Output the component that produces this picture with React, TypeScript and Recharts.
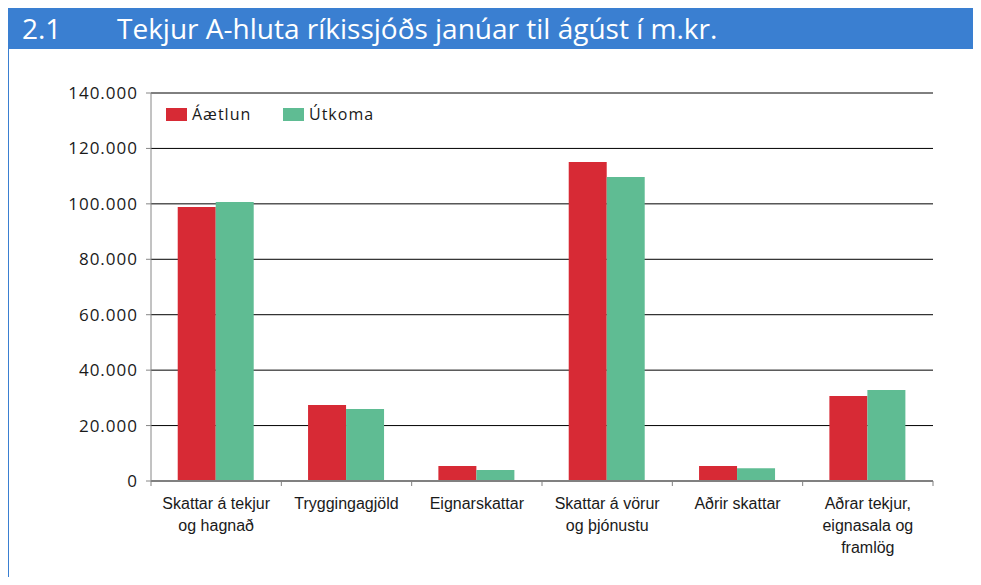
import { BarChart, Bar, XAxis, YAxis, CartesianGrid, Legend } from "recharts";

// categories, split over lines the same way the original wraps them
const categories = [
  "Skattar á tekjur og hagnað",
  "Tryggingagjöld",
  "Eignarskattar",
  "Skattar á vörur og þjónustu",
  "Aðrir skattar",
  "Aðrar tekjur, eignasala og framlög",
];
const categoryLines = [
  ["Skattar á tekjur", "og hagnað"],
  ["Tryggingagjöld"],
  ["Eignarskattar"],
  ["Skattar á vörur", "og þjónustu"],
  ["Aðrir skattar"],
  ["Aðrar tekjur,", "eignasala og", "framlög"],
];
const aaetlun = [98900, 27400, 5400, 115100, 5400, 30700];
const utkoma = [100700, 26000, 4000, 109700, 4600, 32800];
const yTicks = [0, 20000, 40000, 60000, 80000, 100000, 120000, 140000];

const RED = "#D72A35";
const GREEN = "#5FBC93";
const BLUE = "#3A7FD1";

const data = categories.map((name, i) => ({
  name,
  aaetlun: aaetlun[i],
  utkoma: utkoma[i],
}));

const W = 981;
const H = 585;
const margin = { top: 93, right: 48, left: 0, bottom: 10 };
const yAxisWidth = 151;
const plotWidth = W - margin.left - margin.right - yAxisWidth;
const band = plotWidth / categories.length;

const fmt = (n: number) => String(n).replace(/\B(?=(\d{3})+(?!\d))/g, ".");

function XTick(props: any) {
  const { x, y, payload, index } = props;
  const lines = categoryLines[index] || [payload.value];
  return (
    <g>
      <line x1={x - band / 2} x2={x - band / 2} y1={y} y2={y + 5} stroke="#808080" />
      {index === categories.length - 1 && (
        <line x1={x + band / 2} x2={x + band / 2} y1={y} y2={y + 5} stroke="#808080" />
      )}
      {lines.map((l: string, i: number) => (
        <text
          key={i}
          x={x}
          y={y + 28 + i * 22}
          textAnchor="middle"
          fill="#1a1a1a"
          fontSize={16}
          fontFamily="'Liberation Sans', Arial, sans-serif"
        >
          {l}
        </text>
      ))}
    </g>
  );
}

function LegendBox() {
  const items = [
    { label: "Áætlun", color: RED },
    { label: "Útkoma", color: GREEN },
  ];
  return (
    <div
      style={{
        display: "flex",
        alignItems: "center",
        fontFamily: "'Open Sans', sans-serif",
        fontSize: 16,
        letterSpacing: 1,
        color: "#1a1a1a",
        lineHeight: "20px",
      }}
    >
      {items.map((it) => (
        <div key={it.label} style={{ display: "flex", alignItems: "center", width: 117 }}>
          <span style={{ display: "inline-block", width: 21, height: 13, background: it.color, marginRight: 5 }} />
          <span>{it.label}</span>
        </div>
      ))}
    </div>
  );
}

export default function App() {
  return (
    <div style={{ position: "relative", width: W, height: H, margin: -8, background: "#fff", overflow: "hidden" }}>
      {/* header bar */}
      <div
        style={{
          position: "absolute",
          left: 6,
          top: 8,
          width: 971,
          height: 41,
          background: BLUE,
          color: "#fff",
          fontFamily: "'Open Sans', sans-serif",
          fontSize: 28,
          lineHeight: "41px",
        }}
      >
        <span style={{ position: "absolute", left: 16, top: 0 }}>2.1</span>
        <span style={{ position: "absolute", left: 111, top: 0 }}>Tekjur A-hluta ríkissjóðs janúar til ágúst í m.kr.</span>
      </div>
      <div style={{ position: "absolute", left: 6, top: 49, width: 3, height: H - 49, background: BLUE }} />

      <div style={{ position: "absolute", left: 0, top: 0 }}>
        <BarChart width={W} height={H} data={data} margin={margin} barCategoryGap="20.5%" barGap={0}>
          <CartesianGrid vertical={false} stroke="#000" strokeWidth={1} />
          <XAxis
            dataKey="name"
            interval={0}
            height={H - 481 - margin.bottom}
            tick={<XTick />}
            tickLine={false}
            tickSize={0}
            tickMargin={0}
            axisLine={{ stroke: "#808080", strokeWidth: 2 }}
          />
          <YAxis
            width={yAxisWidth}
            domain={[0, 140000]}
            ticks={yTicks}
            tickFormatter={fmt}
            tickSize={5}
            tickMargin={8}
            axisLine={{ stroke: "#868686" }}
            tickLine={{ stroke: "#868686" }}
            tick={{ fill: "#1a1a1a", fontSize: 17, letterSpacing: 1, fontFamily: "'Open Sans', sans-serif" }}
          />
          <Legend
            verticalAlign="middle"
            align="center"
            content={() => <LegendBox />}
            wrapperStyle={{ top: 104, left: 166, width: "auto", height: 20 }}
          />
          <Bar dataKey="aaetlun" name="Áætlun" fill={RED} isAnimationActive={false} />
          <Bar dataKey="utkoma" name="Útkoma" fill={GREEN} isAnimationActive={false} />
        </BarChart>
      </div>
    </div>
  );
}
